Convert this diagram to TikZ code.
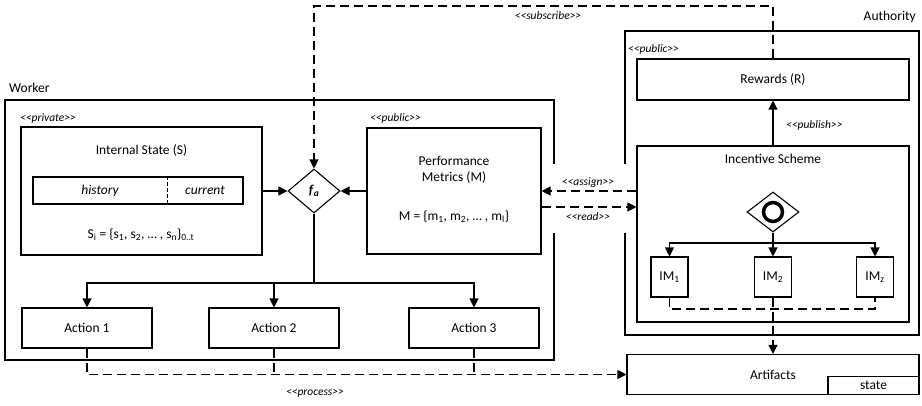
\documentclass[tikz,border=0pt]{standalone}
\usepackage{fontspec}
\setmainfont{Carlito}[Ligatures=TeXOff]
\usetikzlibrary{positioning,shapes,arrows.meta}

\newcommand{\stereo}[1]{\textit{<<#1>>}}

\tikzset{
  box/.style={draw, line width=1.1pt, inner sep=0pt, align=center},
  gate/.style={draw, diamond, line width=1.1pt, inner sep=0pt, minimum width=52pt, minimum height=44pt},
  flow/.style={->, line width=1.1pt},
  msg/.style={line width=1.1pt, dash pattern=on 9pt off 5pt},
  tag/.style={font=\fontsize{11.5}{13}\selectfont\itshape, inner sep=0pt},
  >={Triangle[length=9pt,width=9pt]}
}

\begin{document}
\begin{tikzpicture}[x=1pt, y=-1pt, font=\fontsize{13.5}{16}\selectfont]
\useasboundingbox (0,0) rectangle (922,405);

% Worker
\node[anchor=west, inner sep=0pt] (workerlbl) at (9,88) {Worker};
\draw[line width=1.1pt] (554,164) -- (554,100) -- (5,100) -- (5,360) -- (554,360) -- (554,233);

% Internal State
\node[tag, anchor=west] (privlbl) at (20,118) {\stereo{private}};
\node[box, minimum width=241pt, minimum height=128pt] (state) at (141.5,191) {};
\node (statetitle) at (141.5,150) {Internal State (S)};
\node[box, minimum width=210pt, minimum height=27pt] (bar) at (138,190.5) {};
\coordinate (barsplit) at (167,190.5);
\draw[line width=0.7pt, dash pattern=on 4pt off 2pt] (barsplit |- bar.north) -- (barsplit |- bar.south);
\node[font=\fontsize{13.5}{16}\selectfont\itshape] (hist) at (100,190.5) {history};
\node[font=\fontsize{13.5}{16}\selectfont\itshape] (curr) at (205,190.5) {current};
\node (stateset) at (141,235) {S\textsubscript{i} = \{s\textsubscript{1}, s\textsubscript{2}, … , s\textsubscript{n}\}\textsubscript{0..t}};

% decision function
\node[gate] (fa) at (314,191) {\textbf{\textit{f}}\textsubscript{\textbf{\textit{a}}}};

% Performance Metrics
\node[tag, anchor=west] (publbl) at (370,118) {\stereo{public}};
\node[box, minimum width=174pt, minimum height=126pt] (pm) at (454,191) {};
\node[align=center] (pmtitle) at (454,170) {Performance\\Metrics (M)};
\node (pmset) at (454,217) {M = \{m\textsubscript{1}, m\textsubscript{2}, … , m\textsubscript{l}\}};

\draw[flow] (state.east) -- (fa.west);
\draw[flow] (pm.west) -- (fa.east);

% Actions
\node[box, minimum width=130pt, minimum height=40pt] (act1) at (87,328) {Action 1};
\node[box, minimum width=130pt, minimum height=40pt] (act2) at (274,328) {Action 2};
\node[box, minimum width=130pt, minimum height=40pt] (act3) at (474,328) {Action 3};
\coordinate (actsplit) at (314,283);
\draw[line width=1.1pt] (fa.south) -- (actsplit);
\draw[flow] (actsplit) -| (act1.north);
\draw[flow] (actsplit) -| (act2.north);
\draw[flow] (actsplit) -| (act3.north);

% Authority
\node[anchor=east, inner sep=0pt] (authlbl) at (916,17) {Authority};
\draw[line width=1.1pt] (625,164) -- (625,31) -- (919,31) -- (919,335) -- (625,335) -- (625,233);

\node[tag, anchor=west] (publbl2) at (628,49) {\stereo{public}};
\node[box, minimum width=272pt, minimum height=41pt] (rew) at (773,79.5) {Rewards (R)};
\node[box, minimum width=272pt, minimum height=176pt] (inc) at (773,234) {};
\node (inctitle) at (773,159) {Incentive Scheme};
\draw[flow] (inc.north) -- (rew.south);
\node[tag, anchor=west] (publishlbl) at (786,125) {\stereo{publish}};

% gateway and incentive mechanisms
\node[gate, minimum height=40pt] (gw) at (773,212) {};
\draw[line width=3.5pt] (gw.center) circle (9.5pt);
\node[box, minimum width=37pt, minimum height=40pt] (im1) at (669.5,277) {IM\textsubscript{1}};
\node[box, minimum width=37pt, minimum height=40pt] (im2) at (773,277) {IM\textsubscript{2}};
\node[box, minimum width=37pt, minimum height=40pt] (imz) at (875,277) {IM\textsubscript{z}};
\coordinate (imsplit) at (773,243);
\draw[line width=1.1pt] (gw.south) -- (imsplit);
\draw[flow] (imsplit) -| (im1.north);
\draw[flow] (imsplit) -- (im2.north);
\draw[flow] (imsplit) -| (imz.north);
\coordinate (imjoin) at (773,309);
\draw[msg] (im1.south) |- (imjoin) -| (imz.south);

% Artifacts
\node[box, minimum width=292pt, minimum height=40pt] (art) at (773,374.5) {Artifacts};
\node[box, anchor=south east, minimum width=91pt, minimum height=18pt] (artstate) at (art.south east) {state};
\draw[msg, ->] (im2.south) -- (art.north);

% messages between worker and authority
\draw[msg, ->] (inc.west |- pm.east) -- (pm.east);
\node[tag] (assignlbl) at (588,183) {\stereo{assign}};
\coordinate (readsrc) at ([yshift=-16pt]pm.east);
\draw[msg, ->] (readsrc) -- (inc.west |- readsrc);
\node[tag] (readlbl) at (588,217) {\stereo{read}};

\coordinate (subtop) at (314,6);
\draw[msg, ->] (rew.north) |- (subtop) -- (fa.north);
\node[tag] (sublbl) at (548,16) {\stereo{subscribe}};

\draw[msg, ->] (act1.south) |- (art.west);
\draw[msg] (act2.south) -- (act2.south |- art.west);
\draw[msg] (act3.south) -- (act3.south |- art.west);
\node[tag] (proclbl) at (315,393) {\stereo{process}};
\end{tikzpicture}
\end{document}
